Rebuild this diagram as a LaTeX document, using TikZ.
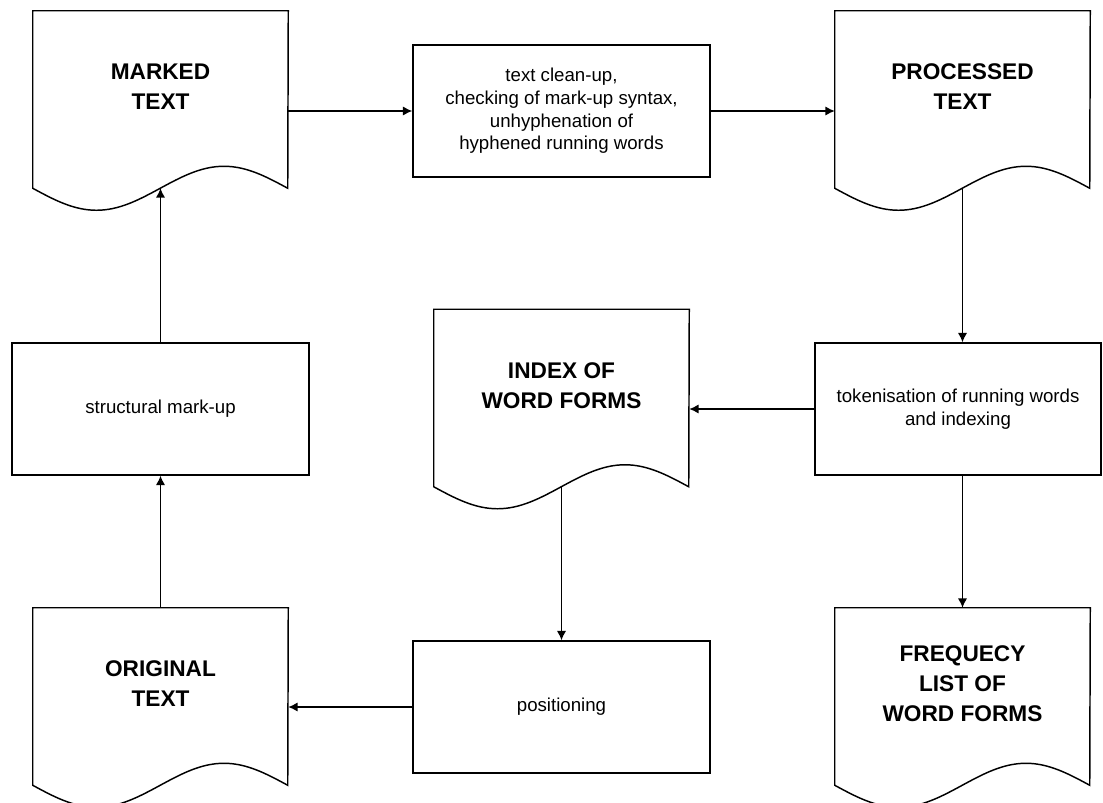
\documentclass[tikz,border=0pt]{standalone}
\usepackage{fontspec}
\setmainfont{Liberation Sans}
\usetikzlibrary{arrows.meta}
\tikzset{
	doc/.style={minimum width=191.25pt,minimum height=132.75pt,inner sep=0pt},
	doclbl/.style={align=center,font=\fontsize{17}{22.5}\selectfont\bfseries},
	box/.style={draw,line width=1.1pt,minimum width=222.75pt,minimum height=99pt,align=center,inner sep=0pt,
		font=\fontsize{14}{17}\selectfont},
	arr/.style={line width=1.1pt,-{Latex[length=7pt,width=7pt]}}
}
\begin{document}
\begin{tikzpicture}[x=0.75pt,y=-0.75pt]
\useasboundingbox (0,0) rectangle (1103,803);
\clip (0,0) rectangle (1103,803);
\fill[white] (0,0) rectangle (1103,803);
% documents
\node[doc] (marked) at (160.5,99.5) {};
\node[doc] (processed) at (962.5,99.5) {};
\node[doc] (index) at (561.5,398) {};
\node[doc] (original) at (160.5,696.5) {};
\node[doc] (freq) at (962.5,696.5) {};
\foreach \d in {marked,processed,index,original,freq} {
	\draw[line width=1.1pt] (\d.north west) -- (\d.south west)
		sin ++(63.75,22) cos ++(63.75,-22) sin ++(63.75,-22) cos ++(63.75,22)
		-- (\d.north east) -- cycle;
}
\node[doclbl] (marked-lbl) at ([yshift=9.4pt]marked.center) {MARKED\\TEXT};
\node[doclbl] (processed-lbl) at ([yshift=9.4pt]processed.center) {PROCESSED\\TEXT};
\node[doclbl] (index-lbl) at ([yshift=9.4pt]index.center) {INDEX OF\\WORD FORMS};
\node[doclbl] (original-lbl) at ([yshift=9.4pt]original.center) {ORIGINAL\\TEXT};
\node[doclbl] (freq-lbl) at ([yshift=9.4pt]freq.center) {FREQUECY\\LIST OF\\WORD FORMS};
% processes
\node[box] (cleanup) at (561.5,111) {text clean-up,\\checking of mark-up syntax,\\unhyphenation of\\hyphened running words};
\node[box] (struct) at (160.5,409) {structural mark-up};
\node[box,minimum width=214.5pt] (token) at (958,409) {tokenisation of running words\\and indexing};
\node[box] (positioning) at (561.5,707) {positioning};
% flow
\draw[arr] (original.north) -- (struct.south);
\draw[arr] (struct.north) -- (marked.south);
\draw[arr] (marked.east |- cleanup.west) -- (cleanup.west);
\draw[arr] (cleanup.east) -- (cleanup.east -| processed.west);
\draw[arr] (processed.south) -- (processed.south |- token.north);
\draw[arr] (token.west) -- (index.east |- token.west);
\draw[arr] (token.south -| freq.north) -- (freq.north);
\draw[arr] (index.south) -- (positioning.north);
\draw[arr] (positioning.west) -- (positioning.west -| original.east);
\end{tikzpicture}
\end{document}
